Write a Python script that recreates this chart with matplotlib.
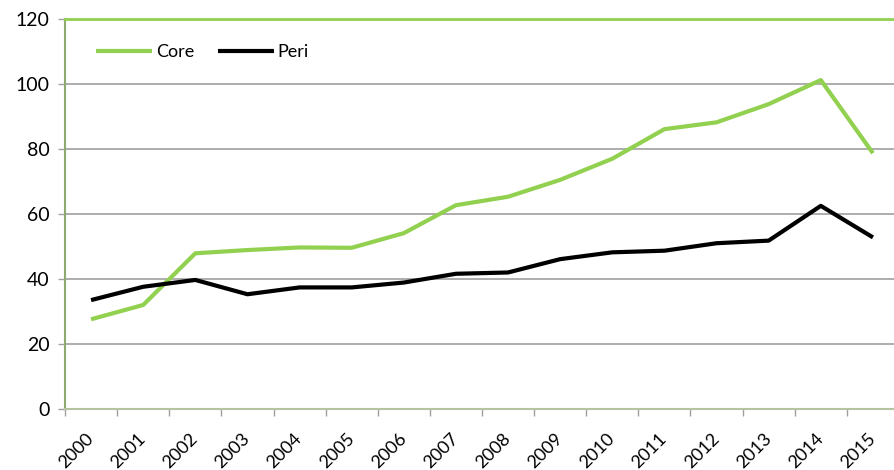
import matplotlib.pyplot as plt

# datos por año
years = [str(y) for y in range(2000, 2016)]
core = [27.7, 32.1, 48.0, 49.0, 49.8, 49.7, 54.2, 62.8, 65.4, 70.6, 77.1, 86.2, 88.3, 93.9, 101.3, 78.8]
peri = [33.6, 37.7, 39.8, 35.4, 37.5, 37.5, 39.0, 41.7, 42.1, 46.2, 48.3, 48.8, 51.1, 51.9, 62.6, 52.9]

plt.rcParams['font.family'] = ['Lato', 'DejaVu Sans']

fig = plt.figure(figsize=(8.95, 4.7), dpi=100)
ax = fig.add_axes([65/895, 1 - 409.3/470, 834/895, 390/470])

x = list(range(len(years)))
ax.plot(x, core, color='#92d050', lw=3, label='Core', solid_capstyle='butt')
ax.plot(x, peri, color='black', lw=3, label='Peri', solid_capstyle='butt')

ax.set_xlim(-0.5, len(years) - 0.5)
ax.set_ylim(0, 120)
ax.set_yticks(range(0, 121, 20))
ax.yaxis.grid(True, color='#a0a0a0', lw=1.2)
ax.set_axisbelow(True)

# ticks del eje x entre categorias, etiquetas en el centro
ax.set_xticks([i - 0.5 for i in range(len(years) + 1)])
ax.set_xticklabels([])
ax.set_xticks(x, minor=True)
ax.set_xticklabels(years, minor=True, rotation=45, ha='right', va='center',
                   rotation_mode='anchor', fontsize=13)
ax.tick_params(axis='x', which='minor', length=0, pad=19)
ax.tick_params(axis='x', which='major', length=5, color='#a0a0a0', width=1)
ax.tick_params(axis='y', length=5, color='#a0a0a0', width=1, labelsize=14, pad=6)

ax.spines['left'].set_color('#8faa6e')
ax.spines['left'].set_linewidth(1.5)
ax.spines['bottom'].set_color('#b4c4a0')
ax.spines['bottom'].set_linewidth(1.5)
ax.spines['top'].set_color('#92d050')
ax.spines['top'].set_linewidth(2)
ax.spines['right'].set_visible(False)

ax.legend(loc='upper left', bbox_to_anchor=(0.018, 0.978), ncol=2, frameon=False,
          fontsize=13, handlelength=3.1, handletextpad=0.2, columnspacing=1.3)

plt.savefig('out.png', dpi=100)
